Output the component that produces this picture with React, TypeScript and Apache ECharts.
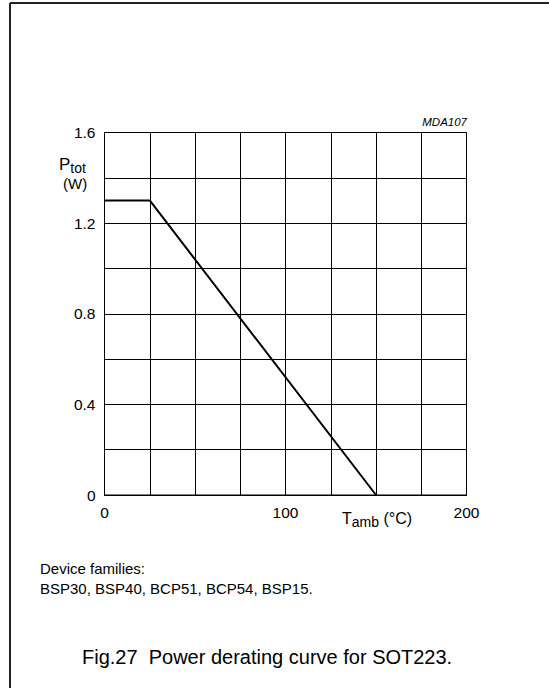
import React, { useEffect, useRef } from "react";
import * as echarts from "echarts";

// Derating curve: ambient temperature (°C) vs total power (W)
const tempC: number[] = [0, 25, 150];
const powerW: number[] = [1.3, 1.3, 0];

// Axis ranges and labelled ticks
const xTickLabels: number[] = [0, 100, 200];
const yTickLabels: string[] = ["0", "0.4", "0.8", "1.2", "1.6"];

const deviceFamilies: string[] = ["BSP30", "BSP40", "BCP51", "BCP54", "BSP15"];
const figCaption = "Fig.27  Power derating curve for SOT223.";
const figCode = "MDA107";

const FONT = '"Liberation Sans", Arial, Helvetica, sans-serif';

export default function App() {
  const ref = useRef<HTMLDivElement>(null);

  useEffect(() => {
    if (!ref.current) return;
    const chart = echarts.init(ref.current, undefined, { renderer: "svg" });

    const option: echarts.EChartsCoreOption = {
      animation: false,
      backgroundColor: "#ffffff",
      grid: {
        left: 104.5,
        right: 82.5,
        top: 132.5,
        bottom: 193,
        show: true,
        borderColor: "#000",
        borderWidth: 1,
        containLabel: false,
      },
      xAxis: {
        type: "value",
        min: 0,
        max: 200,
        interval: 25,
        axisLine: { show: true, lineStyle: { color: "#000", width: 1 } },
        axisTick: { show: false },
        splitLine: { show: true, lineStyle: { color: "#000", width: 1 } },
        axisLabel: {
          color: "#000",
          fontFamily: FONT,
          fontSize: 15.5,
          margin: 9,
          formatter: (v: number) =>
            xTickLabels.indexOf(Math.round(v)) >= 0 ? String(Math.round(v)) : "",
        },
      },
      yAxis: {
        type: "value",
        min: 0,
        max: 1.6,
        interval: 0.2,
        axisLine: { show: true, lineStyle: { color: "#000", width: 1 } },
        axisTick: { show: false },
        splitLine: { show: true, lineStyle: { color: "#000", width: 1 } },
        axisLabel: {
          color: "#000",
          fontFamily: FONT,
          fontSize: 15.5,
          margin: 9,
          formatter: (v: number) => {
            const k = Math.round(v * 10);
            return k % 4 === 0 ? yTickLabels[k / 4] : "";
          },
        },
      },
      series: [
        {
          type: "line",
          data: tempC.map((t, i) => [t, powerW[i]]),
          showSymbol: false,
          symbol: "none",
          lineStyle: { color: "#000", width: 2 },
          silent: true,
        },
      ],
      graphic: [
        // page frame (top and left edges)
        {
          type: "line",
          shape: { x1: 10, y1: 3, x2: 549, y2: 3 },
          style: { stroke: "#222", lineWidth: 2 },
        },
        {
          type: "line",
          shape: { x1: 10, y1: 3, x2: 10, y2: 688 },
          style: { stroke: "#222", lineWidth: 2 },
        },
        {
          type: "text",
          x: 467,
          y: 122,
          style: {
            text: figCode,
            fill: "#000",
            font: `italic 11.5px ${FONT}`,
            align: "right",
            verticalAlign: "middle",
          },
        },
        {
          type: "text",
          x: 59,
          y: 154,
          style: {
            text: "{p|P}{s|tot}",
            fill: "#000",
            rich: {
              p: { fontFamily: FONT, fontSize: 17, fill: "#000" },
              s: {
                fontFamily: FONT,
                fontSize: 14,
                fill: "#000",
                padding: [7, 0, 0, 0],
              },
            },
          },
        },
        {
          type: "text",
          x: 63,
          y: 176,
          style: {
            text: "(W)",
            fill: "#000",
            font: `15px ${FONT}`,
          },
        },
        {
          type: "text",
          x: 342,
          y: 507,
          style: {
            text: "{p|T}{s|amb}{p| (°C)}",
            fill: "#000",
            rich: {
              p: { fontFamily: FONT, fontSize: 16, fill: "#000" },
              s: {
                fontFamily: FONT,
                fontSize: 14,
                fill: "#000",
                padding: [8, 0, 0, 0],
              },
            },
          },
        },
        {
          type: "text",
          x: 40,
          y: 568,
          style: {
            text: "Device families:",
            fill: "#000",
            font: `15px ${FONT}`,
            verticalAlign: "middle",
          },
        },
        {
          type: "text",
          x: 40,
          y: 588,
          style: {
            text: deviceFamilies.join(", ") + ".",
            fill: "#000",
            font: `15px ${FONT}`,
            verticalAlign: "middle",
          },
        },
        {
          type: "text",
          x: 82,
          y: 657,
          style: {
            text: figCaption,
            fill: "#000",
            font: `20px ${FONT}`,
            verticalAlign: "middle",
          },
        },
      ],
    };

    chart.setOption(option);
    return () => chart.dispose();
  }, []);

  return (
    <div
      ref={ref}
      style={{ position: "fixed", left: 0, top: 0, width: 549, height: 688 }}
    />
  );
}
